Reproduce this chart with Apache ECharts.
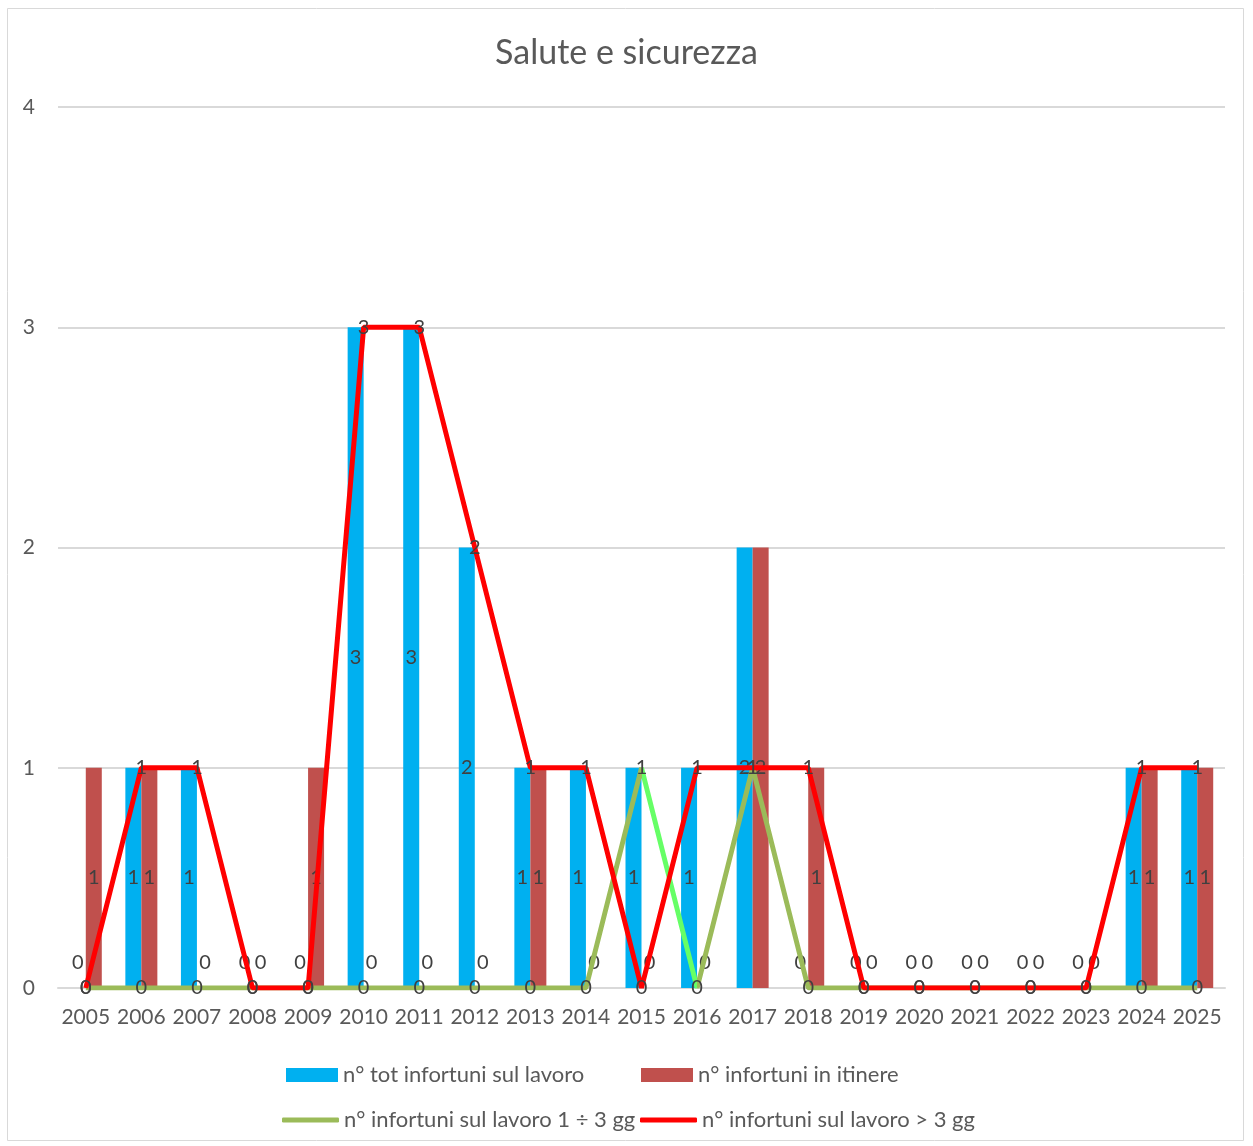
<!DOCTYPE html>
<html><head><meta charset="utf-8">
<script src="https://cdn.jsdelivr.net/npm/echarts@6/dist/echarts.min.js"></script>
<style>html,body{margin:0;padding:0;background:#fff}#c{width:1253px;height:1146px}</style>
</head><body><div id="c"></div>
<script>
const years = ['2005','2006','2007','2008','2009','2010','2011','2012','2013','2014','2015','2016','2017','2018','2019','2020','2021','2022','2023','2024','2025'];
const totLavoro   = [0,1,1,0,0,3,3,2,1,1,1,1,2,0,0,0,0,0,0,1,1];
const itinere     = [1,1,0,0,1,0,0,0,1,0,0,0,2,1,0,0,0,0,0,1,1];
const lavoro1_3   = [0,0,0,0,0,0,0,0,0,0,1,0,1,0,0,0,0,0,0,0,0];
const lavoroOver3 = [0,1,1,0,0,3,3,2,1,1,0,1,1,1,0,0,0,0,0,1,1];
const names = ['n° tot infortuni sul lavoro','n° infortuni in itinere','n° infortuni sul lavoro 1 ÷ 3 gg','n° infortuni sul lavoro > 3 gg'];
const yTicks = [0,1,2,3,4];

const FONT = 'Lato';
const LBL = {fontFamily: FONT, fontSize: 20, color: '#404040'};
const LEG = {fontFamily: FONT, fontSize: 22, color: '#595959'};
function barData(arr){
  return arr.map(v => v === 0 ? {value: v, label: {position: 'top', distance: 15}} : v);
}
const chart = echarts.init(document.getElementById('c'));
chart.setOption({
  animation: false,
  backgroundColor: '#fff',
  graphic: [{type: 'rect', shape: {x: 7.5, y: 8.5, width: 1236, height: 1132}, style: {fill: 'none', stroke: '#d9d9d9', lineWidth: 1}, silent: true}],
  title: {text: 'Salute e sicurezza', left: 'center', top: 31, textStyle: {fontFamily: FONT, fontSize: 34, fontWeight: 'normal', color: '#595959'}},
  grid: {left: 58, right: 28, top: 107, bottom: 158, containLabel: false},
  legend: [
    {data: [names[0]], left: 281, top: 1059, icon: 'rect', itemWidth: 52, itemHeight: 14, textStyle: LEG},
    {data: [names[1]], left: 636, top: 1059, icon: 'rect', itemWidth: 52, itemHeight: 14, textStyle: LEG},
    {data: [names[2]], left: 277, top: 1104, icon: 'roundRect', itemWidth: 57, itemHeight: 5, textStyle: LEG},
    {data: [names[3]], left: 635, top: 1104, icon: 'roundRect', itemWidth: 57, itemHeight: 5, textStyle: LEG}
  ],
  visualMap: {show: false, type: 'piecewise', seriesIndex: 2, dimension: 0,
    pieces: [{gte: 10, lte: 11, color: '#66ff66'}], outOfRange: {color: '#9bbb59'}},
  xAxis: {type: 'category', data: years, boundaryGap: true,
    axisLine: {lineStyle: {color: '#d9d9d9', width: 2}}, axisTick: {show: false},
    axisLabel: {fontFamily: FONT, fontSize: 21, color: '#595959', margin: 19, interval: 0}},
  yAxis: {type: 'value', min: yTicks[0], max: yTicks[yTicks.length-1], interval: 1,
    axisLine: {show: false}, axisTick: {show: false},
    splitLine: {lineStyle: {color: '#d9d9d9', width: 2}},
    axisLabel: {fontFamily: FONT, fontSize: 21, color: '#595959', margin: 23}},
  series: [
    {name: names[0], type: 'bar', data: barData(totLavoro), barWidth: 16, barGap: '0%',
      itemStyle: {color: '#00b0f0'}, label: Object.assign({show: true, position: 'inside'}, LBL), z: 2},
    {name: names[1], type: 'bar', data: barData(itinere), barWidth: 16, barGap: '0%',
      itemStyle: {color: '#c0504d'}, label: Object.assign({show: true, position: 'inside'}, LBL), z: 2},
    {name: names[2], type: 'line', data: lavoro1_3, symbol: 'circle', symbolSize: 0, showSymbol: true,
      itemStyle: {color: '#9bbb59'}, lineStyle: {width: 5}, label: Object.assign({show: true, position: 'inside'}, LBL), z: 3},
    {name: names[3], type: 'line', data: lavoroOver3, symbol: 'circle', symbolSize: 0, showSymbol: true,
      itemStyle: {color: '#ff0000'}, lineStyle: {width: 5, color: '#ff0000'}, label: Object.assign({show: true, position: 'inside'}, LBL), z: 4}
  ]
});
</script></body></html>
